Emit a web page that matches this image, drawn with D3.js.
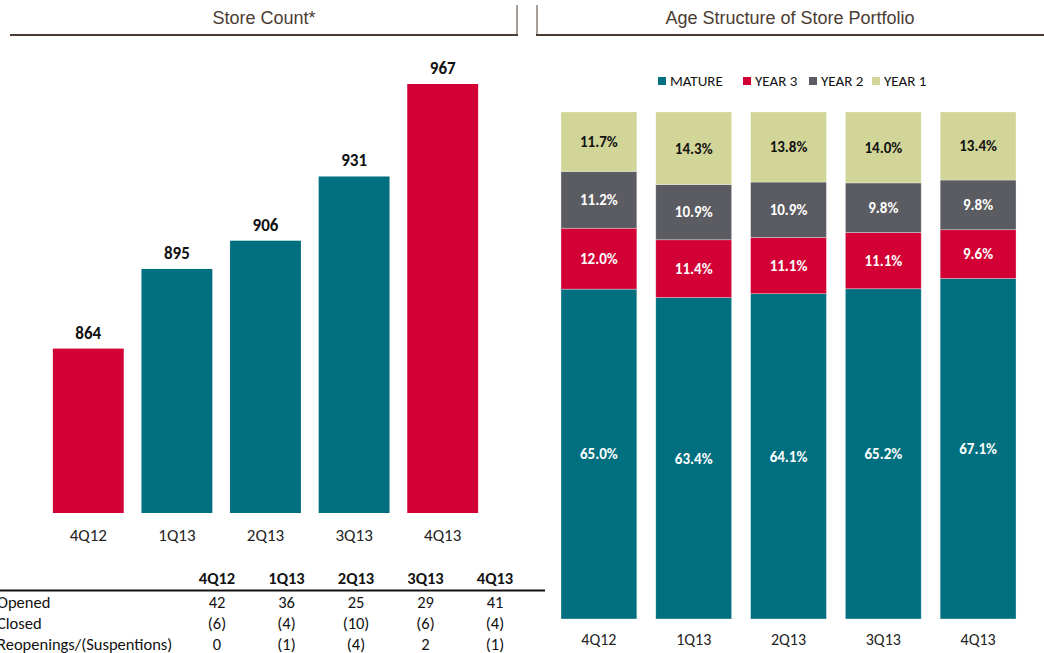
<!DOCTYPE html>
<html>
<head>
<meta charset="utf-8">
<script src="https://cdn.jsdelivr.net/npm/d3@7"></script>
<style>
  body { margin: 0; background: #fff; }
  svg { display: block; }
  .cal { font-family: Carlito, Lato, "Open Sans", sans-serif; }
  .ttl { font-family: "Liberation Sans", Arial, sans-serif; }
</style>
</head>
<body>
<div id="chart"></div>
<script>
// data
var quarters = ["4Q12", "1Q13", "2Q13", "3Q13", "4Q13"];
var storeCounts = [864, 895, 906, 931, 967];

var ageSeries = ["MATURE", "YEAR 3", "YEAR 2", "YEAR 1"];
var mature = [65.0, 63.4, 64.1, 65.2, 67.1];
var year3 = [12.0, 11.4, 11.1, 11.1, 9.6];
var year2 = [11.2, 10.9, 10.9, 9.8, 9.8];
var year1 = [11.7, 14.3, 13.8, 14.0, 13.4];

var tableRows = ["Opened", "Closed", "Reopenings/(Suspentions)"];
var storesOpened = [42, 36, 25, 29, 41];
var storesClosed = [-6, -4, -10, -6, -4];
var storesReopened = [0, -1, -4, 2, -1];

function init() {
    var w = 1044, h = 653;
    var teal = "#007080", red = "#d20035", grey = "#5b5c61", lime = "#d1d597";
    var brown = "#4a3c32";

    var svg = d3.select("#chart").append("svg")
        .attr("width", w)
        .attr("height", h);

    // panel headers
    function header(x0, x1, label, leftRule) {
        svg.append("text")
            .attr("class", "ttl")
            .attr("x", (x0 + x1) / 2)
            .attr("y", 24)
            .attr("text-anchor", "middle")
            .attr("font-size", 18)
            .attr("fill", brown)
            .text(label);
        svg.append("line")
            .attr("x1", x0).attr("x2", x1)
            .attr("y1", 35).attr("y2", 35)
            .attr("stroke", brown).attr("stroke-width", 2);
        svg.append("line")
            .attr("x1", leftRule ? x0 + 1 : x1 - 1).attr("x2", leftRule ? x0 + 1 : x1 - 1)
            .attr("y1", 5).attr("y2", 35)
            .attr("stroke", brown).attr("stroke-width", 1);
    }
    header(10, 518, "Store Count*", false);
    header(536, 1044, "Age Structure of Store Portfolio", true);

    // ---- store count bars
    var x = d3.scaleBand()
        .domain(quarters)
        .range([44, 487])
        .paddingInner(0.2)
        .paddingOuter(0.1);

    var y = d3.scaleLinear()
        .domain([800, 967])
        .range([513, 84]);

    var counts = quarters.map(function(q, i) { return { q: q, v: storeCounts[i], i: i }; });

    svg.append("g").selectAll("rect")
        .data(counts)
        .enter().append("rect")
        .attr("x", function(d) { return x(d.q); })
        .attr("y", function(d) { return y(d.v); })
        .attr("width", x.bandwidth())
        .attr("height", function(d) { return y(800) - y(d.v); })
        .attr("fill", function(d) { return (d.i === 0 || d.i === counts.length - 1) ? red : teal; });

    svg.append("g").selectAll("text")
        .data(counts)
        .enter().append("text")
        .attr("class", "cal")
        .attr("x", function(d) { return x(d.q) + x.bandwidth() / 2; })
        .attr("y", function(d) { return y(d.v) - 10; })
        .attr("text-anchor", "middle")
        .attr("font-size", 17)
        .attr("font-weight", "bold")
        .attr("fill", "#111")
        .text(function(d) { return d.v; });

    var xAxis = d3.axisBottom(x).tickSize(0).tickPadding(0);
    var gx = svg.append("g")
        .attr("transform", "translate(0," + 530 + ")")
        .call(xAxis);
    gx.select(".domain").remove();
    gx.selectAll("text")
        .attr("class", "cal")
        .attr("font-size", 17)
        .attr("fill", "#222")
        .attr("dy", "0.35em")
        .attr("y", 5);

    // ---- table
    var tx = d3.scalePoint()
        .domain(quarters)
        .range([217, 495]);

    svg.append("g").selectAll("text")
        .data(quarters)
        .enter().append("text")
        .attr("class", "cal")
        .attr("x", function(d) { return tx(d); })
        .attr("y", 584)
        .attr("text-anchor", "middle")
        .attr("font-size", 16.5)
        .attr("font-weight", "bold")
        .attr("fill", "#111")
        .text(function(d) { return d; });

    svg.append("line")
        .attr("x1", 0).attr("x2", 545)
        .attr("y1", 590.5).attr("y2", 590.5)
        .attr("stroke", "#111").attr("stroke-width", 2);

    var rowValues = [storesOpened, storesClosed, storesReopened];
    var fmt = function(v) { return v < 0 ? "(" + (-v) + ")" : String(v); };
    var rowY = d3.scalePoint().domain(tableRows).range([608, 650]);

    tableRows.forEach(function(r, ri) {
        svg.append("text")
            .attr("class", "cal")
            .attr("x", -3)
            .attr("y", rowY(r))
            .attr("font-size", 16.5)
            .attr("fill", "#111")
            .text(r);
        svg.append("g").selectAll("text")
            .data(rowValues[ri])
            .enter().append("text")
            .attr("class", "cal")
            .attr("x", function(d, i) { return tx(quarters[i]); })
            .attr("y", rowY(r))
            .attr("text-anchor", "middle")
            .attr("font-size", 16.5)
            .attr("fill", "#111")
            .text(fmt);
    });

    // ---- age structure stacked bars
    var rows = quarters.map(function(q, i) {
        return { q: q, "MATURE": mature[i], "YEAR 3": year3[i], "YEAR 2": year2[i], "YEAR 1": year1[i] };
    });
    var stacked = d3.stack().keys(ageSeries).offset(d3.stackOffsetExpand)(rows);
    var color = d3.scaleOrdinal().domain(ageSeries).range([teal, red, grey, lime]);

    var x2 = d3.scaleBand()
        .domain(quarters)
        .range([551.5, 1025.5])
        .paddingInner(0.2)
        .paddingOuter(0.1);
    var y2 = d3.scaleLinear().domain([0, 1]).range([619, 112]);

    var layers = svg.append("g").selectAll("g")
        .data(stacked)
        .enter().append("g")
        .attr("fill", function(d) { return color(d.key); });

    layers.selectAll("rect")
        .data(function(d) { return d; })
        .enter().append("rect")
        .attr("x", function(d) { return x2(d.data.q); })
        .attr("y", function(d) { return y2(d[1]); })
        .attr("width", x2.bandwidth())
        .attr("height", function(d) { return y2(d[0]) - y2(d[1]); })
        .attr("stroke", "#fff")
        .attr("stroke-opacity", 0.45)
        .attr("stroke-width", 0.7);

    layers.selectAll("text")
        .data(function(d) { return d.map(function(p) { p.key = d.key; return p; }); })
        .enter().append("text")
        .attr("class", "cal")
        .attr("x", function(d) { return x2(d.data.q) + x2.bandwidth() / 2; })
        .attr("y", function(d) { return (y2(d[0]) + y2(d[1])) / 2; })
        .attr("dy", "0.35em")
        .attr("text-anchor", "middle")
        .attr("font-size", 15)
        .attr("font-weight", "bold")
        .attr("fill", function(d) { return d.key === "YEAR 1" ? "#111" : "#fff"; })
        .text(function(d) { return d.data[d.key].toFixed(1) + "%"; });

    var xAxis2 = d3.axisBottom(x2).tickSize(0).tickPadding(0);
    var gx2 = svg.append("g")
        .attr("transform", "translate(0," + 634 + ")")
        .call(xAxis2);
    gx2.select(".domain").remove();
    gx2.selectAll("text")
        .attr("class", "cal")
        .attr("font-size", 16)
        .attr("fill", "#222")
        .attr("dy", "0.35em")
        .attr("y", 5);

    // legend
    var legendX = [658, 743, 809, 872];
    var legend = svg.append("g").selectAll("g")
        .data(ageSeries)
        .enter().append("g")
        .attr("transform", function(d, i) { return "translate(" + legendX[i] + ",77)"; });
    legend.append("rect")
        .attr("width", 8).attr("height", 8)
        .attr("fill", function(d) { return color(d); });
    legend.append("text")
        .attr("class", "cal")
        .attr("x", 12)
        .attr("y", 4)
        .attr("dy", "0.35em")
        .attr("font-size", 15)
        .attr("fill", "#111")
        .text(function(d) { return d; });
}

window.onload = init;
</script>
</body>
</html>
